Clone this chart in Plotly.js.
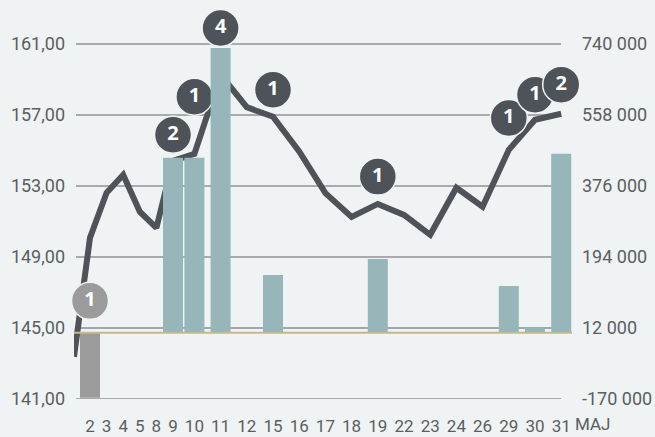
<!DOCTYPE html>
<html>
<head>
<meta charset="utf-8">
<script src="https://cdn.plot.ly/plotly-3.0.1.min.js"></script>
<style>
  html, body { margin: 0; padding: 0; background: #eff3f4; }
</style>
</head>
<body>
<div id="chart" style="width:655px;height:437px"></div>
<script>
/* trading days of the month, price at close, volume */
const days = ['2','3','4','5','8','9','10','11','12','15','16','17','18','19','22','23','24','26','29','30','31'];
const monthLabel = 'MAJ';
const openPrice = 143.38;
const closePrice = [150.08, 152.62, 153.63, 151.55, 150.64, 154.42, 154.81, 159.27, 157.44, 156.90,
                    154.95, 152.60, 151.26, 151.99, 151.37, 150.25, 152.90, 151.83, 155.04, 156.73, 157.07];
const volume = [-166800, 0, 0, 0, 0, 448200, 448200, 729700, 0, 148000,
                0, 0, 0, 189100, 0, 0, 0, 0, 119800, 12800, 458500];

/* numbered event bubbles */
const eventDays = ['2','9','10','11','15','19','29','30','31'];
const eventCounts = [1, 2, 1, 4, 1, 1, 1, 1, 2];
const eventLevels = [146.53, 155.89, 158.03, 161.90, 158.42, 153.53, 156.83, 158.14, 158.71];

/* axis ticks */
const priceTicks = [141, 145, 149, 153, 157, 161];
const priceTickText = ['141,00', '145,00', '149,00', '153,00', '157,00', '161,00'];
const volTicks = [-170000, 12000, 194000, 376000, 558000, 740000];
const volTickText = ['-170 000', '12 000', '194 000', '376 000', '558 000', '740 000'];

/* colours */
const DARK = '#4d5358';
const BAR = '#97b6b9';
const NEG = '#9b9b9b';
const BG = '#eff3f4';
const TEXT = '#5a5e61';

/* day labels sit like inline text, so the spacing follows label width */
const CHAR_W = 9.6, GAP = 7;
function slot(label){ return GAP + CHAR_W * label.length; }
const xPos = [];
days.forEach(function(d, i){
    if(i === 0) xPos.push(0);
    else xPos.push(xPos[i-1] + (slot(days[i-1]) + slot(d)) / 2);
});
const lastX = xPos[xPos.length-1];
const monthX = lastX + (slot(days[days.length-1]) + slot(monthLabel)) / 2;

const PLOT_W = 498;
const xStart = -16;
const xRange = [xStart, xStart + PLOT_W];

function xOf(day){ return xPos[days.indexOf(day)]; }

/* the tick band 141..161 is 355px tall; extra room above keeps the top bubble in range */
const PLOT_H = 390;
const BAND_PX = 355;
const priceLo = priceTicks[0], priceHi = priceTicks[priceTicks.length-1];
const volLo = volTicks[0], volHi = volTicks[volTicks.length-1];
const stretch = PLOT_H / BAND_PX;
const priceRange = [priceLo, priceLo + (priceHi - priceLo) * stretch];
const volRange = [volLo, volLo + (volHi - volLo) * stretch];

const X_LABEL_GAP = 15;

const bars = {
    x: xPos,
    y: volume,
    yaxis: 'y2',
    type: 'bar',
    width: 20,
    marker: {color: volume.map(function(v){ return v < 0 ? NEG : BAR; })},
    hoverinfo: 'skip'
};

const zeroLine = {
    x: xRange,
    y: [0, 0],
    yaxis: 'y2',
    mode: 'lines',
    line: {color: '#c7b88c', width: 2},
    hoverinfo: 'skip'
};

const priceLine = {
    x: [xStart].concat(xPos),
    y: [openPrice].concat(closePrice),
    mode: 'lines',
    line: {color: DARK, width: 6},
    hoverinfo: 'skip'
};

const bubbles = {
    x: eventDays.map(xOf),
    y: eventLevels,
    mode: 'markers+text',
    text: eventCounts.map(String),
    textposition: 'middle center',
    textfont: {family: 'Open Sans', size: 20, color: '#ffffff', weight: 'bold'},
    marker: {
        size: 37,
        color: eventDays.map(function(d){ return volume[days.indexOf(d)] < 0 ? NEG : DARK; }),
        line: {color: BG, width: 1.5}
    },
    cliponaxis: false,
    hoverinfo: 'skip'
};

/* horizontal guides, the 145 one is lighter */
const gridShapes = priceTicks.map(function(v){
    const light = v === 145;
    return {
        type: 'line', xref: 'paper', yref: 'y',
        x0: 2 / PLOT_W, x1: 487 / PLOT_W, y0: v, y1: v,
        line: {color: light ? '#a3a7a9' : '#5f6366', width: light ? 2 : 1},
        layer: 'below'
    };
});

const layout = {
    width: 655, height: 437,
    margin: {l: 74, r: 83, t: 437 - 38 - PLOT_H, b: 38},
    paper_bgcolor: BG,
    plot_bgcolor: BG,
    showlegend: false,
    font: {family: 'Roboto', size: 18, color: TEXT},
    xaxis: {
        range: xRange,
        tickvals: xPos,
        ticktext: days,
        tickfont: {size: 17},
        showgrid: false, zeroline: false, showline: false,
        ticks: '',
        ticklabelstandoff: X_LABEL_GAP,
        fixedrange: true
    },
    yaxis: {
        range: priceRange,
        tickvals: priceTicks,
        ticktext: priceTickText,
        showgrid: false, zeroline: false, showline: false,
        ticks: '',
        ticklabelstandoff: 8
    },
    yaxis2: {
        range: volRange,
        overlaying: 'y',
        side: 'right',
        tickvals: volTicks,
        ticktext: volTickText,
        showgrid: false, zeroline: false, showline: false,
        ticks: '',
        ticklabelstandoff: 9
    },
    shapes: gridShapes,
    annotations: [{
        x: (monthX - xStart) / PLOT_W, xref: 'paper', xanchor: 'center',
        y: 0, yref: 'paper', yanchor: 'top',
        yshift: -X_LABEL_GAP + 2,
        text: monthLabel,
        showarrow: false,
        font: {family: 'Roboto', size: 17, color: TEXT}
    }]
};

Plotly.newPlot('chart', [bars, zeroLine, priceLine, bubbles], layout, {staticPlot: true});
</script>
</body>
</html>
